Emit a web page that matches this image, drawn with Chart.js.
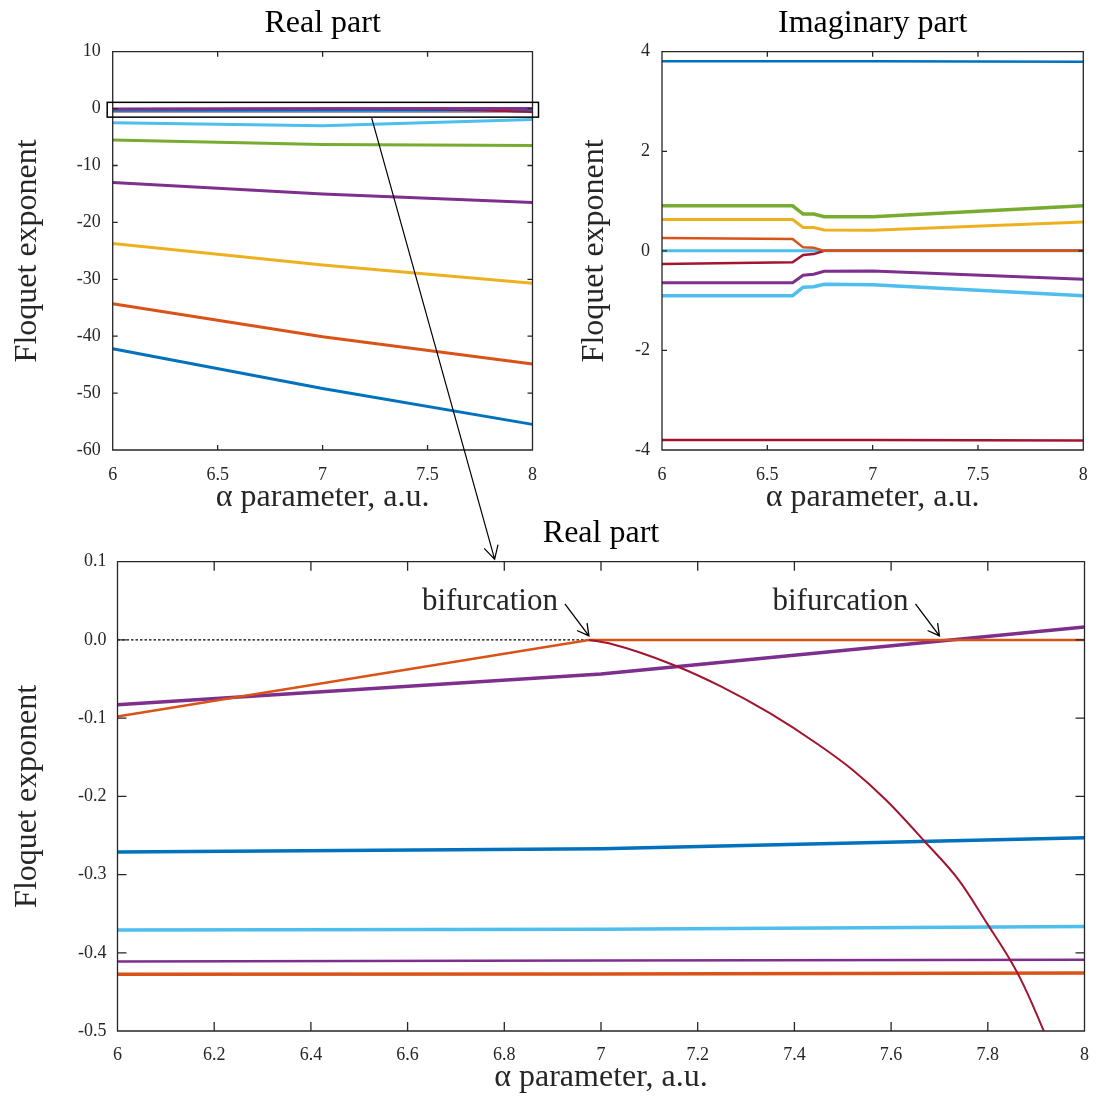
<!DOCTYPE html>
<html>
<head>
<meta charset="utf-8">
<script src="https://cdn.jsdelivr.net/npm/chart.js@4/dist/chart.umd.min.js"></script>
<style>
body { margin: 0; background: #fff; width: 1102px; height: 1099px; position: relative; overflow: hidden; }
canvas { position: absolute; }
</style>
</head>
<body>
<canvas id="re" width="551" height="520" style="left:0;top:0"></canvas>
<canvas id="im" width="551" height="520" style="left:551px;top:0"></canvas>
<canvas id="zoom" width="1102" height="579" style="left:0;top:520px"></canvas>
<canvas id="over" width="1102" height="1099" style="left:0;top:0;pointer-events:none"></canvas>
<script>
// real part, whole spectrum (top left)
var alphaWide = [6, 7, 8];
var reBlue   = [-42.2, -49.2, -55.5];
var reOrange = [-34.3, -40.1, -44.9];
var reYellow = [-23.7, -27.5, -30.7];
var rePurple = [-13.0, -15.0, -16.5];
var reGreen  = [-5.5, -6.3, -6.5];
var reCyan   = [-2.5, -3.0, -1.9];

// real part near zero (bottom plot, also the cluster at 0 in the top left)
var alphaNear = [6, 7, 8];
var nearBlue      = [-0.271, -0.267, -0.253];
var nearCyan      = [-0.371, -0.370, -0.3665];
var nearPurpleLow = [-0.411, -0.410, -0.409];
var nearOrangeLow = [-0.4275, -0.427, -0.426];
var nearPurple    = [-0.083, -0.0435, 0.0166];
var alphaOrange = [6, 6.975, 7, 8];
var nearOrange  = [-0.098, 0, 0, 0];
var alphaRed = [6.975, 7.02, 7.15, 7.25, 7.35, 7.45, 7.52, 7.59, 7.67, 7.74, 7.8, 7.846, 7.873, 7.915, 7.96, 8];
var nearRed  = [0, -0.005, -0.032, -0.060, -0.094, -0.134, -0.166, -0.205, -0.258, -0.307, -0.364, -0.409, -0.44, -0.499, -0.57, -0.64];
var alphaZeroLine = [6, 6.975];
var zeroLine = [0, 0];

// imaginary part (top right)
var alphaIm = [6, 6.62, 6.67, 6.72, 6.77, 7, 8];
var imBlueTop = [3.81, 3.81, 3.81, 3.81, 3.81, 3.81, 3.80];
var imGreen   = [0.905, 0.905, 0.74, 0.74, 0.685, 0.685, 0.905];
var imYellow  = [0.63, 0.63, 0.47, 0.47, 0.42, 0.415, 0.58];
var imOrange  = [0.26, 0.24, 0.07, 0.06, 0, 0, 0];
var imCyanZero = [0, 0, 0, 0, 0, 0, 0];
var imRed     = [-0.265, -0.23, -0.085, -0.065, 0, 0, 0];
var imPurple  = [-0.64, -0.64, -0.49, -0.47, -0.41, -0.405, -0.57];
var imCyan    = [-0.9, -0.9, -0.73, -0.72, -0.67, -0.68, -0.9];
var imRedLow  = [-3.8, -3.8, -3.8, -3.8, -3.8, -3.8, -3.81];

var bifurcations = [6.975, 7.70];

var FONT = 'Liberation Serif';
var INK = '#262626';
var col = {blue: '#0072BD', orange: '#D95319', yellow: '#EDB120', purple: '#7E2F8E',
           green: '#77AC30', cyan: '#4DBEEE', red: '#A2142F'};

function pts(xs, ys) { return xs.map((x, i) => ({x: x, y: ys[i]})); }

function line(xs, ys, color, width, extra) {
    return Object.assign({data: pts(xs, ys), borderColor: color, borderWidth: width,
        pointRadius: 0, tension: 0, fill: false}, extra || {});
}

// matlab style box with ticks pointing inwards
var boxPlugin = {
    id: 'box',
    afterDatasetsDraw(chart, args, opts) {
        var ctx = chart.ctx, a = chart.chartArea, x = chart.scales.x, y = chart.scales.y;
        var len = opts.tick || 5;
        ctx.save();
        ctx.strokeStyle = INK;
        ctx.lineWidth = 1.3;
        ctx.beginPath();
        x.ticks.forEach(t => {
            var p = x.getPixelForValue(t.value);
            ctx.moveTo(p, a.bottom); ctx.lineTo(p, a.bottom - len);
            ctx.moveTo(p, a.top); ctx.lineTo(p, a.top + len);
        });
        y.ticks.forEach(t => {
            var p = y.getPixelForValue(t.value);
            ctx.moveTo(a.left, p); ctx.lineTo(a.left + len, p);
            ctx.moveTo(a.right, p); ctx.lineTo(a.right - len, p);
        });
        ctx.rect(a.left, a.top, a.right - a.left, a.bottom - a.top);
        ctx.stroke();
        ctx.restore();
    }
};

function arrow(ctx, x0, y0, x1, y1, head) {
    var ang = Math.atan2(y1 - y0, x1 - x0);
    ctx.beginPath();
    ctx.moveTo(x0, y0); ctx.lineTo(x1, y1);
    ctx.moveTo(x1 - head * Math.cos(ang - 0.5), y1 - head * Math.sin(ang - 0.5));
    ctx.lineTo(x1, y1);
    ctx.lineTo(x1 - head * Math.cos(ang + 0.5), y1 - head * Math.sin(ang + 0.5));
    ctx.stroke();
}

// "bifurcation" notes on the zoomed plot
var notePlugin = {
    id: 'notes',
    afterDatasetsDraw(chart) {
        var ctx = chart.ctx, x = chart.scales.x, y = chart.scales.y;
        ctx.save();
        ctx.strokeStyle = '#000';
        ctx.lineWidth = 1.3;
        ctx.fillStyle = INK;
        ctx.font = '31px "' + FONT + '"';
        ctx.textAlign = 'right';
        ctx.textBaseline = 'alphabetic';
        bifurcations.forEach(b => {
            var tx = x.getPixelForValue(b), ty = y.getPixelForValue(0) - 4;
            arrow(ctx, tx - 24, ty - 32, tx, ty, 13);
            ctx.fillText('bifurcation', tx - 31, ty - 26);
        });
        ctx.restore();
    }
};

function axes(o) {
    return {
        x: {
            type: 'linear', min: 6, max: 8,
            grid: {display: false, drawTicks: false}, border: {display: false},
            ticks: {stepSize: o.xStep, padding: o.xPad, color: INK, autoSkip: false, maxRotation: 0,
                    font: {family: FONT, size: 18},
                    callback: v => String(Math.round(v * 10) / 10)},
            title: {display: true, text: 'α parameter, a.u.', color: INK,
                    font: {family: FONT, size: 32, lineHeight: 1}, padding: {top: 0, bottom: o.xTitlePad}},
            afterFit: s => { s.height = o.xH; }
        },
        y: {
            type: 'linear', min: o.yMin, max: o.yMax,
            grid: {display: false, drawTicks: false}, border: {display: false},
            ticks: {stepSize: o.yStep, padding: o.yPad, color: INK, autoSkip: false,
                    font: {family: FONT, size: 18}, callback: o.yFmt},
            title: {display: true, text: 'Floquet exponent', color: INK,
                    font: {family: FONT, size: 32, lineHeight: 1}, padding: {top: o.yTitlePad, bottom: 0}},
            afterFit: s => { s.width = o.yW; }
        }
    };
}

function options(title, titlePad, titleLH, padRight, sc, tick) {
    return {
        responsive: false, animation: false, devicePixelRatio: 1,
        layout: {padding: {left: 0, top: 0, right: padRight, bottom: 0}},
        scales: sc,
        plugins: {
            legend: {display: false}, tooltip: {enabled: false},
            title: {display: true, text: title, color: '#000', fullSize: false,
                    font: {family: FONT, size: 32, weight: 'normal', lineHeight: titleLH}, padding: titlePad},
            box: {tick: tick}
        }
    };
}

var reChart = new Chart(document.getElementById('re'), {
    type: 'line',
    data: {datasets: [
        line(alphaNear, nearPurple, col.purple, 3),
        line(alphaOrange, nearOrange, col.orange, 2.5),
        line(alphaRed, nearRed, col.red, 2, {cubicInterpolationMode: 'monotone'}),
        line(alphaNear, nearBlue, col.blue, 3),
        line(alphaNear, nearCyan, col.cyan, 3),
        line(alphaNear, nearPurpleLow, col.purple, 2.5),
        line(alphaNear, nearOrangeLow, col.orange, 3),
        line(alphaWide, reCyan, col.cyan, 3),
        line(alphaWide, reGreen, col.green, 3),
        line(alphaWide, rePurple, col.purple, 3),
        line(alphaWide, reYellow, col.yellow, 3),
        line(alphaWide, reOrange, col.orange, 3),
        line(alphaWide, reBlue, col.blue, 3)
    ]},
    options: options('Real part', {top: 8, bottom: 11.7}, 1, 17, axes({
        xStep: 0.5, xPad: 14, xTitlePad: 6, xH: 70,
        yMin: -60, yMax: 10, yStep: 10, yPad: 12, yTitlePad: 11.5, yW: 112.7,
        yFmt: v => String(v)
    }), 5),
    plugins: [boxPlugin]
});

var imChart = new Chart(document.getElementById('im'), {
    type: 'line',
    data: {datasets: [
        line(alphaIm, imGreen, col.green, 3.5),
        line(alphaIm, imYellow, col.yellow, 3),
        line(alphaIm, imOrange, col.orange, 2.5),
        line(alphaIm, imRed, col.red, 2.5),
        line(alphaIm, imCyanZero, col.cyan, 3),
        line(alphaIm, imPurple, col.purple, 3),
        line(alphaIm, imCyan, col.cyan, 3.5),
        line(alphaIm, imBlueTop, col.blue, 2.5),
        line(alphaIm, imRedLow, col.red, 2.5)
    ]},
    options: options('Imaginary part', {top: 8, bottom: 11.7}, 1, 18.7, axes({
        xStep: 0.5, xPad: 14, xTitlePad: 6, xH: 70,
        yMin: -4, yMax: 4, yStep: 2, yPad: 12, yTitlePad: 28, yW: 111,
        yFmt: v => String(v)
    }), 5),
    plugins: [boxPlugin]
});

var zoomChart = new Chart(document.getElementById('zoom'), {
    type: 'line',
    data: {datasets: [
        line(alphaRed, nearRed, col.red, 2, {cubicInterpolationMode: 'monotone'}),
        line(alphaOrange, nearOrange, col.orange, 2.5),
        line(alphaNear, nearPurple, col.purple, 3.5),
        line(alphaNear, nearBlue, col.blue, 3.5),
        line(alphaNear, nearCyan, col.cyan, 3.5),
        line(alphaNear, nearPurpleLow, col.purple, 2.5),
        line(alphaNear, nearOrangeLow, col.orange, 3.5),
        line(alphaZeroLine, zeroLine, '#000', 1.2, {borderDash: [2.5, 2]})
    ]},
    options: options('Real part', {top: 0, bottom: 13.7}, 0.875, 15, axes({
        xStep: 0.2, xPad: 13, xTitlePad: 5, xH: 68,
        yMin: -0.5, yMax: 0.1, yStep: 0.1, yPad: 11, yTitlePad: 11.5, yW: 117.5,
        yFmt: v => (Math.round(v * 10) / 10).toFixed(1)
    }), 9),
    plugins: [boxPlugin, notePlugin]
});

// zoom window on the top left plot and the arrow down to the zoomed plot
var ov = document.getElementById('over').getContext('2d');
var xa = reChart.scales.x, ya = reChart.scales.y;
var winTop = ya.getPixelForValue(1.1), winBottom = ya.getPixelForValue(-1.5);
ov.strokeStyle = '#000';
ov.lineWidth = 1.5;
ov.strokeRect(xa.left - 5.5, winTop, xa.right - xa.left + 11.5, winBottom - winTop);
ov.lineWidth = 1.2;
var zx = zoomChart.scales.x;
arrow(ov, xa.getPixelForValue(7.234), winBottom + 1,
      zx.getPixelForValue(6.78), 520 + zoomChart.chartArea.top - 2.5, 15);
</script>
</body>
</html>
